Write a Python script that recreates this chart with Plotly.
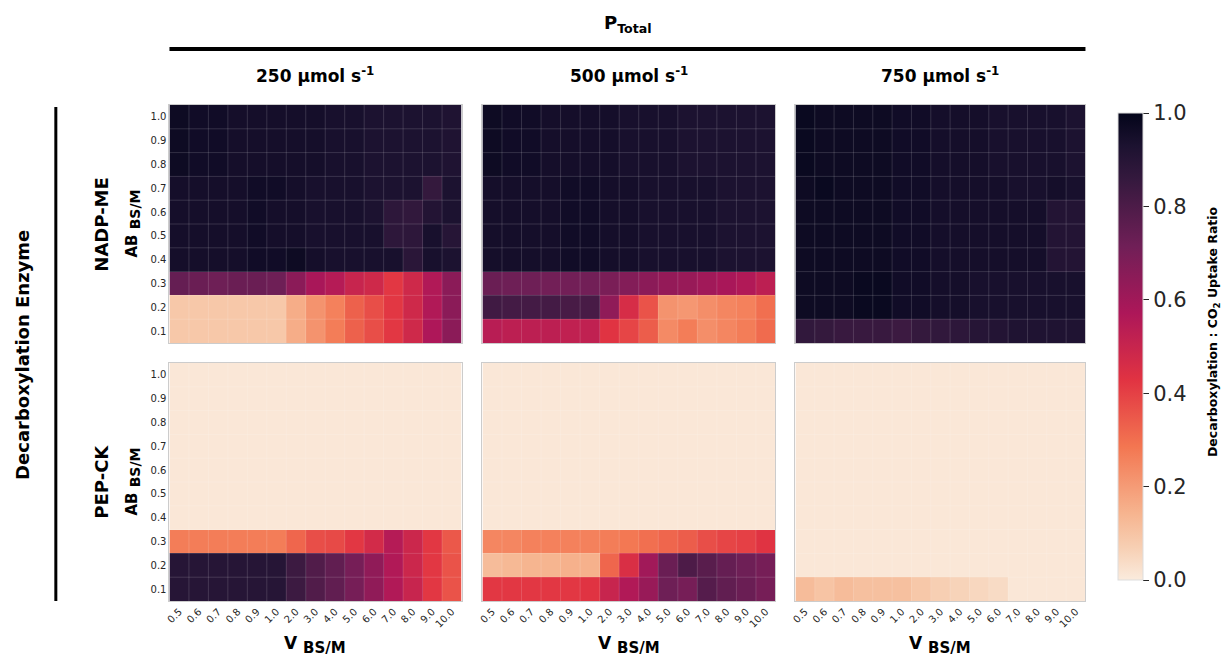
import plotly.graph_objects as go
from plotly.subplots import make_subplots

# ---------------- data ----------------
v_labels = ["0.5", "0.6", "0.7", "0.8", "0.9", "1.0", "2.0", "3.0", "4.0", "5.0",
            "6.0", "7.0", "8.0", "9.0", "10.0"]
ab_labels = ["0.1", "0.2", "0.3", "0.4", "0.5", "0.6", "0.7", "0.8", "0.9", "1.0"]
p_labels = ["250", "500", "750"]
enzymes = ["NADP-ME", "PEP-CK"]

# rows ordered AB = 0.1 ... 1.0
nadp_250 = [
    [0.09, 0.09, 0.09, 0.09, 0.09, 0.09, 0.16, 0.22, 0.27, 0.33, 0.37, 0.42, 0.48, 0.57, 0.65],
    [0.09, 0.09, 0.09, 0.09, 0.09, 0.09, 0.16, 0.22, 0.26, 0.33, 0.37, 0.42, 0.48, 0.56, 0.65],
    [0.74, 0.73, 0.72, 0.73, 0.73, 0.72, 0.65, 0.58, 0.55, 0.50, 0.48, 0.42, 0.48, 0.56, 0.65],
    [0.95, 0.95, 0.95, 0.95, 0.96, 0.96, 0.97, 0.95, 0.94, 0.94, 0.94, 0.94, 0.89, 0.94, 0.93],
    [0.95, 0.95, 0.95, 0.95, 0.96, 0.95, 0.95, 0.94, 0.94, 0.94, 0.94, 0.88, 0.88, 0.94, 0.90],
    [0.95, 0.95, 0.95, 0.95, 0.96, 0.95, 0.95, 0.94, 0.94, 0.94, 0.93, 0.88, 0.87, 0.91, 0.93],
    [0.95, 0.95, 0.95, 0.95, 0.96, 0.96, 0.95, 0.94, 0.94, 0.94, 0.93, 0.93, 0.93, 0.86, 0.93],
    [0.97, 0.96, 0.96, 0.95, 0.95, 0.95, 0.95, 0.95, 0.94, 0.94, 0.93, 0.93, 0.93, 0.93, 0.92],
    [0.97, 0.96, 0.96, 0.95, 0.95, 0.95, 0.95, 0.95, 0.94, 0.94, 0.93, 0.93, 0.93, 0.93, 0.92],
    [0.97, 0.96, 0.96, 0.95, 0.95, 0.95, 0.95, 0.95, 0.94, 0.94, 0.93, 0.93, 0.93, 0.93, 0.92],
]
nadp_500 = [
    [0.54, 0.53, 0.53, 0.53, 0.52, 0.52, 0.43, 0.39, 0.34, 0.24, 0.27, 0.23, 0.25, 0.27, 0.31],
    [0.83, 0.82, 0.82, 0.82, 0.81, 0.81, 0.64, 0.46, 0.36, 0.22, 0.21, 0.23, 0.25, 0.26, 0.30],
    [0.73, 0.72, 0.72, 0.71, 0.71, 0.71, 0.69, 0.67, 0.65, 0.63, 0.62, 0.60, 0.58, 0.56, 0.53],
    [0.95, 0.95, 0.95, 0.95, 0.96, 0.96, 0.95, 0.95, 0.94, 0.94, 0.94, 0.94, 0.93, 0.93, 0.93],
    [0.95, 0.95, 0.95, 0.95, 0.96, 0.96, 0.95, 0.95, 0.94, 0.94, 0.94, 0.94, 0.93, 0.93, 0.93],
    [0.95, 0.95, 0.95, 0.95, 0.96, 0.96, 0.95, 0.95, 0.94, 0.94, 0.94, 0.94, 0.93, 0.93, 0.93],
    [0.95, 0.95, 0.95, 0.95, 0.96, 0.96, 0.95, 0.95, 0.94, 0.94, 0.94, 0.94, 0.93, 0.93, 0.93],
    [0.97, 0.96, 0.96, 0.95, 0.95, 0.95, 0.95, 0.94, 0.94, 0.94, 0.93, 0.93, 0.93, 0.93, 0.93],
    [0.97, 0.96, 0.96, 0.95, 0.95, 0.95, 0.95, 0.94, 0.94, 0.94, 0.93, 0.93, 0.93, 0.93, 0.93],
    [0.97, 0.96, 0.96, 0.95, 0.95, 0.95, 0.95, 0.94, 0.94, 0.94, 0.93, 0.93, 0.93, 0.93, 0.93],
]
nadp_750 = [
    [0.87, 0.86, 0.85, 0.85, 0.85, 0.84, 0.86, 0.87, 0.88, 0.90, 0.91, 0.92, 0.92, 0.92, 0.92],
    [0.97, 0.97, 0.97, 0.98, 0.98, 0.96, 0.96, 0.95, 0.95, 0.94, 0.94, 0.94, 0.94, 0.94, 0.94],
    [0.97, 0.97, 0.97, 0.98, 0.98, 0.96, 0.96, 0.95, 0.95, 0.94, 0.94, 0.94, 0.94, 0.94, 0.94],
    [0.97, 0.97, 0.97, 0.97, 0.97, 0.96, 0.96, 0.95, 0.95, 0.95, 0.95, 0.95, 0.95, 0.91, 0.91],
    [0.97, 0.97, 0.97, 0.97, 0.97, 0.96, 0.96, 0.95, 0.95, 0.95, 0.95, 0.95, 0.95, 0.91, 0.91],
    [0.97, 0.97, 0.97, 0.97, 0.97, 0.96, 0.96, 0.95, 0.95, 0.95, 0.95, 0.95, 0.95, 0.91, 0.91],
    [0.97, 0.98, 0.97, 0.97, 0.97, 0.96, 0.96, 0.95, 0.95, 0.95, 0.95, 0.94, 0.94, 0.95, 0.94],
    [0.98, 0.97, 0.97, 0.97, 0.97, 0.96, 0.96, 0.95, 0.95, 0.95, 0.94, 0.94, 0.94, 0.94, 0.93],
    [0.98, 0.97, 0.97, 0.97, 0.97, 0.96, 0.96, 0.95, 0.95, 0.95, 0.94, 0.94, 0.94, 0.94, 0.93],
    [0.98, 0.97, 0.97, 0.97, 0.97, 0.96, 0.96, 0.95, 0.95, 0.95, 0.94, 0.94, 0.94, 0.94, 0.93],
]
pep_250 = [
    [0.90, 0.90, 0.90, 0.90, 0.90, 0.90, 0.84, 0.79, 0.75, 0.70, 0.64, 0.56, 0.50, 0.42, 0.36],
    [0.90, 0.90, 0.90, 0.90, 0.90, 0.90, 0.84, 0.79, 0.75, 0.70, 0.64, 0.56, 0.49, 0.42, 0.36],
    [0.27, 0.27, 0.27, 0.27, 0.27, 0.27, 0.32, 0.37, 0.38, 0.42, 0.47, 0.55, 0.49, 0.42, 0.35],
    [0.01] * 15, [0.01] * 15, [0.01] * 15, [0.01] * 15, [0.01] * 15, [0.01] * 15, [0.01] * 15,
]
pep_500 = [
    [0.42, 0.42, 0.42, 0.42, 0.42, 0.43, 0.50, 0.56, 0.62, 0.72, 0.70, 0.78, 0.75, 0.73, 0.70],
    [0.12, 0.13, 0.14, 0.14, 0.15, 0.15, 0.32, 0.45, 0.60, 0.73, 0.80, 0.77, 0.74, 0.72, 0.70],
    [0.25, 0.25, 0.26, 0.26, 0.26, 0.26, 0.27, 0.28, 0.30, 0.32, 0.34, 0.37, 0.39, 0.40, 0.43],
    [0.01] * 15, [0.01] * 15, [0.01] * 15, [0.01] * 15, [0.01] * 15, [0.01] * 15, [0.01] * 15,
]
pep_750 = [
    [0.12, 0.10, 0.12, 0.11, 0.11, 0.11, 0.09, 0.07, 0.06, 0.05, 0.04, 0.01, 0.01, 0.01, 0.01],
    [0.01] * 15, [0.01] * 15, [0.01] * 15, [0.01] * 15, [0.01] * 15,
    [0.01] * 15, [0.01] * 15, [0.01] * 15, [0.01] * 15,
]
panels = [[nadp_250, nadp_500, nadp_750], [pep_250, pep_500, pep_750]]

# seaborn "rocket_r"-like colour scale
rocket_r = [
    [0.0, "#faebdd"], [0.07, "#f7cfb3"], [1 / 7, "#f6b48f"], [2 / 7, "#f37651"],
    [3 / 7, "#e13342"], [4 / 7, "#ad1759"], [5 / 7, "#701f57"], [6 / 7, "#35193e"],
    [0.93, "#1c1230"], [1.0, "#03051a"],
]

W, H = 1229, 657
FONT = "DejaVu Sans"
TXT = "#262626"

col_px = [(166, 459), (480, 774), (794, 1085)]
row_px = [(105, 343), (363, 601)]

fig = make_subplots(rows=2, cols=3)

nx, ny = len(v_labels), len(ab_labels)
xs = list(range(nx))
ys = list(range(ny))

shapes = []
for r in range(2):
    for c in range(3):
        idx = r * 3 + c + 1
        fig.add_trace(go.Heatmap(
            z=panels[r][c], x=xs, y=ys, zmin=0, zmax=1, colorscale=rocket_r,
            showscale=(idx == 1),
            colorbar=dict(
                x=1118 / W, xanchor="left", xref="paper", y=1 - 346.5 / H, yanchor="middle",
                len=467 / H, lenmode="fraction", thickness=25, thicknessmode="pixels",
                xpad=0, ypad=0,
                outlinewidth=1, outlinecolor="#dddddd",
                tickvals=[0, 0.2, 0.4, 0.6, 0.8, 1.0], ticktext=["0.0", "0.2", "0.4", "0.6", "0.8", "1.0"],
                ticks="outside", ticklen=6, tickwidth=1, tickcolor=TXT,
                tickfont=dict(family=FONT, size=21, color=TXT),
            ),
            hoverongaps=False,
        ), row=r + 1, col=c + 1)
        xa = "x" if idx == 1 else f"x{idx}"
        ya = "y" if idx == 1 else f"y{idx}"
        x0, x1 = col_px[c]
        y0, y1 = row_px[r]
        fig.update_xaxes(
            domain=[x0 / W, x1 / W], range=[-0.5, nx - 0.5],
            tickvals=xs, ticktext=v_labels, showticklabels=(r == 1), tickangle=-45,
            tickfont=dict(family=FONT, size=10, color=TXT), ticks="",
            showgrid=False, zeroline=False, showline=True, mirror=True,
            linecolor="#cccccc", linewidth=1, row=r + 1, col=c + 1)
        fig.update_yaxes(
            domain=[1 - y1 / H, 1 - y0 / H], range=[-0.5, ny - 0.5],
            tickvals=ys, ticktext=ab_labels, showticklabels=(c == 0),
            tickfont=dict(family=FONT, size=10, color=TXT), ticks="",
            showgrid=False, zeroline=False, showline=True, mirror=True,
            linecolor="#cccccc", linewidth=1, row=r + 1, col=c + 1)
        # thin translucent cell separators
        for i in range(nx - 1):
            shapes.append(dict(type="line", xref=xa, yref=ya, x0=i + 0.5, x1=i + 0.5,
                               y0=-0.5, y1=ny - 0.5, layer="above",
                               line=dict(color="rgba(255,255,255,0.15)", width=1)))
        for j in range(ny - 1):
            shapes.append(dict(type="line", xref=xa, yref=ya, y0=j + 0.5, y1=j + 0.5,
                               x0=-0.5, x1=nx - 0.5, layer="above",
                               line=dict(color="rgba(255,255,255,0.15)", width=1)))

# decorative lines
shapes.append(dict(type="line", xref="paper", yref="paper", x0=166 / W, x1=1085 / W,
                   y0=1 - 49 / H, y1=1 - 49 / H, line=dict(color="black", width=4)))
shapes.append(dict(type="line", xref="paper", yref="paper", x0=52 / W, x1=52 / W,
                   y0=1 - 107 / H, y1=1 - 601 / H, line=dict(color="black", width=3)))

ann = []


def A(text, x, y, size, angle=0, color="black"):
    ann.append(dict(text=text, x=x / W, y=1 - y / H, xref="paper", yref="paper",
                    showarrow=False, textangle=angle, xanchor="center", yanchor="middle",
                    font=dict(family=FONT, size=size, color=color)))


A("<b>P<sub>Total</sub></b>", 626, 24, 18)
for c, p in enumerate(p_labels):
    cx = (col_px[c][0] + col_px[c][1]) / 2
    A(f"<b>{p} µmol s<sup>-1</sup></b>", cx, 75, 17)
    A("<b>V <sub><span style='font-size:15px'>BS/M</span></sub></b>", cx, 645, 17)
A("<b>Decarboxylation Enzyme</b>", 18, 355, 18, -90)
for r, e in enumerate(enzymes):
    cy = (row_px[r][0] + row_px[r][1]) / 2
    A(f"<b>{e}</b>", 97, cy, 18, -90)
    A("<b>AB <sub><span style='font-size:14px'>BS/M</span></sub></b>", 129, cy, 15, -90)
A("<b>Decarboxylation : CO<sub>2</sub> Uptake Ratio</b>", 1213, 332, 12.5, -90)

fig.update_layout(
    width=W, height=H, margin=dict(l=0, r=0, t=0, b=0),
    paper_bgcolor="white", plot_bgcolor="white",
    shapes=shapes, annotations=ann, font=dict(family=FONT, color=TXT),
)

fig.write_html("out.html")
